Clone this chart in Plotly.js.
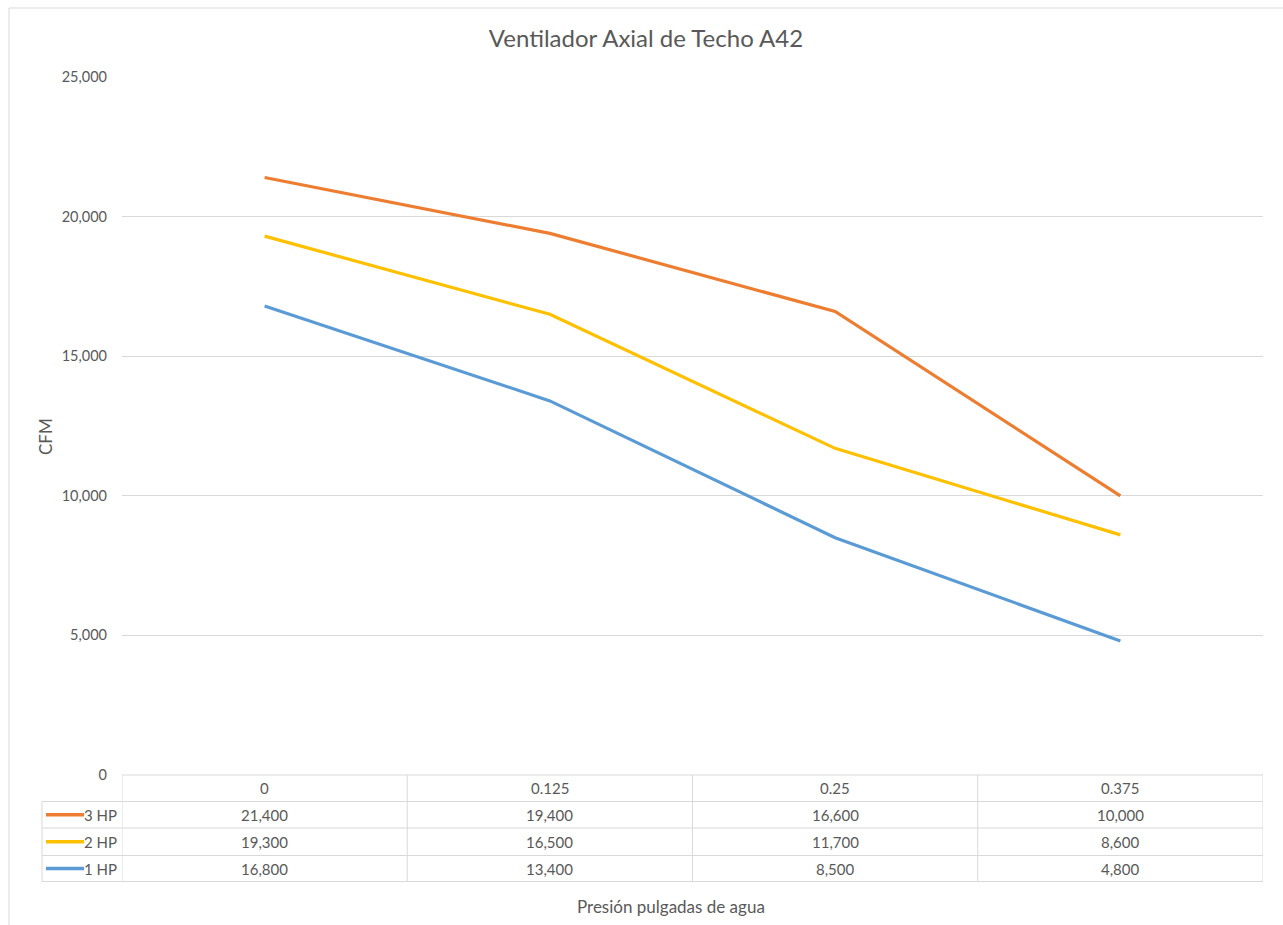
<!DOCTYPE html>
<html>
<head>
<meta charset="utf-8">
<script src="https://cdn.plot.ly/plotly-3.0.1.min.js"></script>
<style>html,body{margin:0;padding:0;background:#fff;}#chart{width:1283px;height:925px;}</style>
</head>
<body>
<div id="chart"></div>
<script>
const pressure = ['0', '0.125', '0.25', '0.375'];
const hp3 = [21400, 19400, 16600, 10000];
const hp2 = [19300, 16500, 11700, 8600];
const hp1 = [16800, 13400, 8500, 4800];
const seriesNames = ['3 HP', '2 HP', '1 HP'];
const seriesColors = ['#ED7D31', '#FFC000', '#5B9BD5'];
const seriesValues = [hp3, hp2, hp1];
const yTicks = [0, 5000, 10000, 15000, 20000, 25000];

const W = 1283, H = 925;
const L = 122, R = 1263, T = 77, B = 775;
const px = x => (x - L) / (R - L);
const py = y => (B - y) / (B - T);

const font = 'Lato, "Open Sans", sans-serif';
const grey = '#595959';
const lineGrey = '#d9d9d9';

const traces = seriesNames.map((n, i) => ({
  type: 'scatter', mode: 'lines', name: n,
  x: pressure, y: seriesValues[i],
  line: {color: seriesColors[i], width: 3.2},
  hoverinfo: 'x+y+name'
}));

const shapes = [];
const annotations = [];
// chart border
shapes.push({type: 'rect', xref: 'paper', yref: 'paper', x0: px(9), x1: px(1300), y0: py(940), y1: py(8),
  line: {color: lineGrey, width: 1}, fillcolor: 'rgba(0,0,0,0)', layer: 'below'});

// data table
const rowB = [775, 801.5, 828, 855.5, 881.5];
shapes.push({type: 'line', xref: 'paper', yref: 'paper', x0: 0, x1: 1, y0: py(rowB[0]), y1: py(rowB[0]), line: {color: lineGrey, width: 1}});
for (let k = 1; k < rowB.length; k++) {
  shapes.push({type: 'line', xref: 'paper', yref: 'paper', x0: px(42), x1: 1, y0: py(rowB[k]), y1: py(rowB[k]), line: {color: lineGrey, width: 1}});
}
for (let c = 0; c <= pressure.length; c++) {
  shapes.push({type: 'line', xref: 'x', yref: 'paper', x0: c - 0.5, x1: c - 0.5, y0: py(rowB[0]), y1: py(rowB[4]), line: {color: lineGrey, width: 1}});
}
shapes.push({type: 'line', xref: 'paper', yref: 'paper', x0: px(42), x1: px(42), y0: py(rowB[1]), y1: py(rowB[4]), line: {color: lineGrey, width: 1}});

const fmt = v => v.toLocaleString('en-US');
const tfont = {family: font, size: 15, color: grey};
pressure.forEach((p, j) => {
  annotations.push({xref: 'x', yref: 'paper', x: j, y: py((rowB[0] + rowB[1]) / 2), text: p, showarrow: false,
    font: tfont, xanchor: 'center', yanchor: 'middle'});
});
seriesNames.forEach((n, i) => {
  const yc = py((rowB[i + 1] + rowB[i + 2]) / 2);
  seriesValues[i].forEach((v, j) => {
    annotations.push({xref: 'x', yref: 'paper', x: j, y: yc, text: fmt(v), showarrow: false,
      font: tfont, xanchor: 'center', yanchor: 'middle'});
  });
  shapes.push({type: 'line', xref: 'paper', yref: 'paper', x0: px(46), x1: px(84), y0: yc, y1: yc,
    line: {color: seriesColors[i], width: 3.5}});
  annotations.push({xref: 'paper', yref: 'paper', x: px(119), y: yc, text: n, showarrow: false,
    font: tfont, xanchor: 'right', yanchor: 'middle'});
});

annotations.push({xref: 'paper', yref: 'paper', x: px(45), y: py(437), text: 'CFM', textangle: -90, showarrow: false,
  font: {family: font, size: 17, color: grey}, xanchor: 'center', yanchor: 'middle'});
annotations.push({xref: 'paper', yref: 'paper', x: px(671), y: py(906), text: 'Presión pulgadas de agua', showarrow: false,
  font: {family: font, size: 17, color: grey}, xanchor: 'center', yanchor: 'middle'});

const layout = {
  width: W, height: H,
  margin: {l: L, r: W - R, t: T, b: H - B, pad: 0},
  paper_bgcolor: '#fff', plot_bgcolor: '#fff',
  showlegend: false,
  title: {text: 'Ventilador Axial de Techo A42', font: {family: font, size: 24, color: grey},
    x: 646 / W, xanchor: 'center', y: 1 - 39 / H, yanchor: 'middle'},
  xaxis: {type: 'category', range: [-0.5, pressure.length - 0.5], showticklabels: false, showgrid: false,
    zeroline: false, showline: false, ticks: '', fixedrange: true},
  yaxis: {range: [0, 25000], tickvals: yTicks, ticktext: yTicks.map(fmt), showgrid: true, gridcolor: lineGrey, gridwidth: 1,
    zeroline: false, showline: false, ticks: '', ticklabelstandoff: 14,
    tickfont: {family: font, size: 14.5, color: grey}, fixedrange: true},
  shapes: shapes,
  annotations: annotations,
  font: {family: font, color: grey}
};

Plotly.newPlot('chart', traces, layout, {displayModeBar: false, staticPlot: true});
</script>
</body>
</html>
